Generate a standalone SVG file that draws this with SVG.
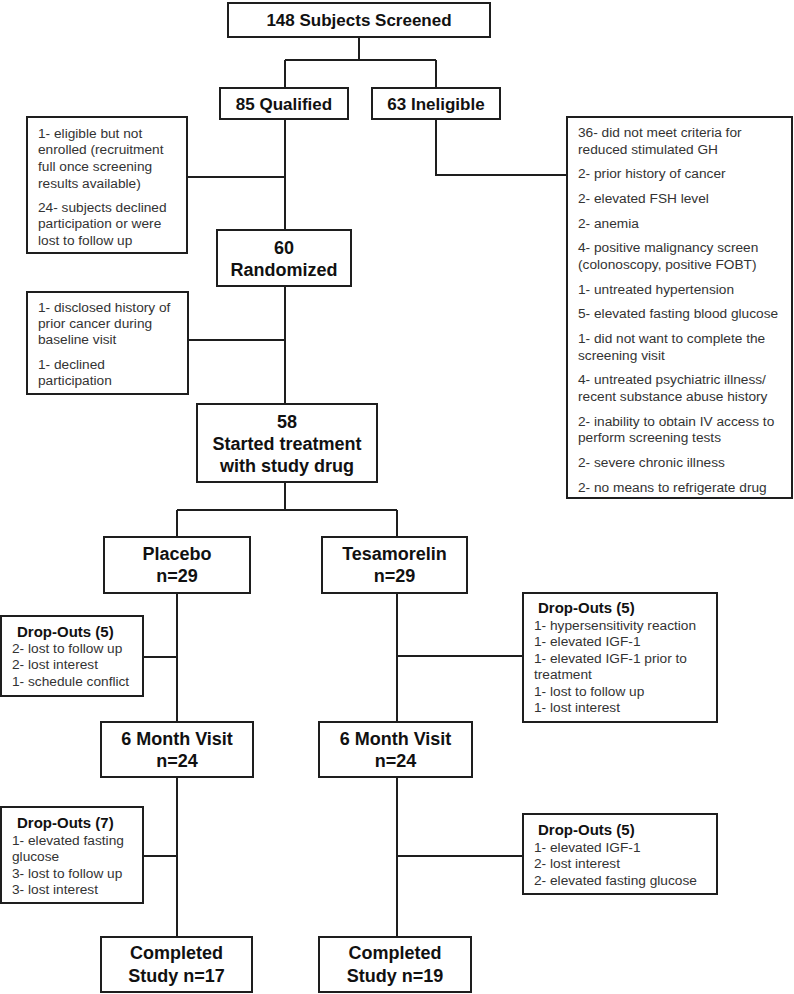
<svg xmlns="http://www.w3.org/2000/svg" width="794" height="994" viewBox="0 0 794 994">
<style>
rect{fill:#fff;stroke:#1e1e1e;stroke-width:2}
.c path{fill:none;stroke:#1e1e1e;stroke-width:2}
.b{font-family:"Liberation Sans",Arial,sans-serif;font-weight:bold;font-size:18px;fill:#111;text-anchor:middle}
.s{font-size:17px}
.t{font-family:"Liberation Sans",Arial,sans-serif;font-weight:bold;font-size:15px;fill:#111}
.r{font-family:"Liberation Sans",Arial,sans-serif;font-size:13.7px;fill:#333}
</style>
<rect x="0" y="0" width="794" height="994" style="fill:#fff;stroke:none"/>
<g class="c" id="connectors">
<path d="M359,37V60M285,60H436M285,60V88M436,60V88"/>
<path d="M285,119V230M187,177H285"/>
<path d="M436,119V175H567"/>
<path d="M285,286V404M188,340H285"/>
<path d="M285,482V510M177,510H397M177,510V537M397,510V537"/>
<path d="M177,593V722M143,657H177"/>
<path d="M397,593V722M397,656H523"/>
<path d="M177,777V937M143,856H177"/>
<path d="M397,777V937M397,856H523"/>
</g>
<g id="screened"><rect x="228" y="3" width="262" height="34"/><text class="b s" x="359" y="26">148 Subjects Screened</text></g>
<g id="qualified"><rect x="220" y="88" width="128" height="31"/><text class="b s" x="284" y="110">85 Qualified</text></g>
<g id="ineligible"><rect x="372" y="88" width="128" height="31"/><text class="b s" x="436" y="110">63 Ineligible</text></g>
<g id="excluded1"><rect x="27" y="117" width="160" height="136"/>
<text class="r" x="38" y="138">1- eligible but not</text>
<text class="r" x="38" y="154">enrolled (recruitment</text>
<text class="r" x="38" y="171">full once screening</text>
<text class="r" x="38" y="188">results available)</text>
<text class="r" x="38" y="212">24- subjects declined</text>
<text class="r" x="38" y="228">participation or were</text>
<text class="r" x="38" y="245">lost to follow up</text>
</g>
<g id="ineligible-reasons"><rect x="567" y="117" width="225" height="381"/>
<text class="r" x="578" y="137">36- did not meet criteria for</text>
<text class="r" x="578" y="154">reduced stimulated GH</text>
<text class="r" x="578" y="178">2- prior history of cancer</text>
<text class="r" x="578" y="203">2- elevated FSH level</text>
<text class="r" x="578" y="228">2- anemia</text>
<text class="r" x="578" y="252">4- positive malignancy screen</text>
<text class="r" x="578" y="269">(colonoscopy, positive FOBT)</text>
<text class="r" x="578" y="294">1- untreated hypertension</text>
<text class="r" x="578" y="318">5- elevated fasting blood glucose</text>
<text class="r" x="578" y="343">1- did not want to complete the</text>
<text class="r" x="578" y="360">screening visit</text>
<text class="r" x="578" y="384">4- untreated psychiatric illness/</text>
<text class="r" x="578" y="401">recent substance abuse history</text>
<text class="r" x="578" y="426">2- inability to obtain IV access to</text>
<text class="r" x="578" y="442">perform screening tests</text>
<text class="r" x="578" y="467">2- severe chronic illness</text>
<text class="r" x="578" y="492">2- no means to refrigerate drug</text>
</g>
<g id="randomized"><rect x="217" y="230" width="134" height="56"/><text class="b" x="284" y="254">60</text><text class="b" x="284" y="276">Randomized</text></g>
<g id="excluded2"><rect x="27" y="292" width="161" height="102"/>
<text class="r" x="38" y="312">1- disclosed history of</text>
<text class="r" x="38" y="328">prior cancer during</text>
<text class="r" x="38" y="344">baseline visit</text>
<text class="r" x="38" y="369">1- declined</text>
<text class="r" x="38" y="385">participation</text>
</g>
<g id="started"><rect x="197" y="404" width="180" height="78"/><text class="b" x="287" y="428">58</text><text class="b" x="287" y="450">Started treatment</text><text class="b" x="287" y="472">with study drug</text></g>
<g id="placebo"><rect x="104" y="537" width="146" height="56"/><text class="b" x="177" y="560">Placebo</text><text class="b" x="177" y="582">n=29</text></g>
<g id="tesamorelin"><rect x="322" y="537" width="145" height="56"/><text class="b" x="394.5" y="560">Tesamorelin</text><text class="b" x="394.5" y="582">n=29</text></g>
<g id="dropouts-p1"><rect x="1" y="616" width="142" height="80"/>
<text class="t" x="17" y="637">Drop-Outs (5)</text>
<text class="r" x="12" y="653">2- lost to follow up</text>
<text class="r" x="12" y="669">2- lost interest</text>
<text class="r" x="12" y="686">1- schedule conflict</text>
</g>
<g id="dropouts-t1"><rect x="523" y="593" width="194" height="129"/>
<text class="t" x="538" y="613">Drop-Outs (5)</text>
<text class="r" x="534" y="630">1- hypersensitivity reaction</text>
<text class="r" x="534" y="646">1- elevated IGF-1</text>
<text class="r" x="534" y="663">1- elevated IGF-1 prior to</text>
<text class="r" x="534" y="679">treatment</text>
<text class="r" x="534" y="696">1- lost to follow up</text>
<text class="r" x="534" y="712">1- lost interest</text>
</g>
<g id="month6-p"><rect x="101" y="722" width="152" height="55"/><text class="b" x="177" y="745">6 Month Visit</text><text class="b" x="177" y="767">n=24</text></g>
<g id="month6-t"><rect x="319" y="722" width="153" height="55"/><text class="b" x="395.5" y="745">6 Month Visit</text><text class="b" x="395.5" y="767">n=24</text></g>
<g id="dropouts-p2"><rect x="1" y="807" width="142" height="96"/>
<text class="t" x="17" y="828">Drop-Outs (7)</text>
<text class="r" x="12" y="845">1- elevated fasting</text>
<text class="r" x="12" y="861">glucose</text>
<text class="r" x="12" y="878">3- lost to follow up</text>
<text class="r" x="12" y="894">3- lost interest</text>
</g>
<g id="dropouts-t2"><rect x="523" y="814" width="194" height="80"/>
<text class="t" x="538" y="835">Drop-Outs (5)</text>
<text class="r" x="534" y="852">1- elevated IGF-1</text>
<text class="r" x="534" y="868">2- lost interest</text>
<text class="r" x="534" y="885">2- elevated fasting glucose</text>
</g>
<g id="completed-p"><rect x="101" y="937" width="151" height="55"/><text class="b" x="176.5" y="959">Completed</text><text class="b" x="176.5" y="982">Study n=17</text></g>
<g id="completed-t"><rect x="319" y="937" width="152" height="55"/><text class="b" x="395" y="959">Completed</text><text class="b" x="395" y="982">Study n=19</text></g>
</svg>
